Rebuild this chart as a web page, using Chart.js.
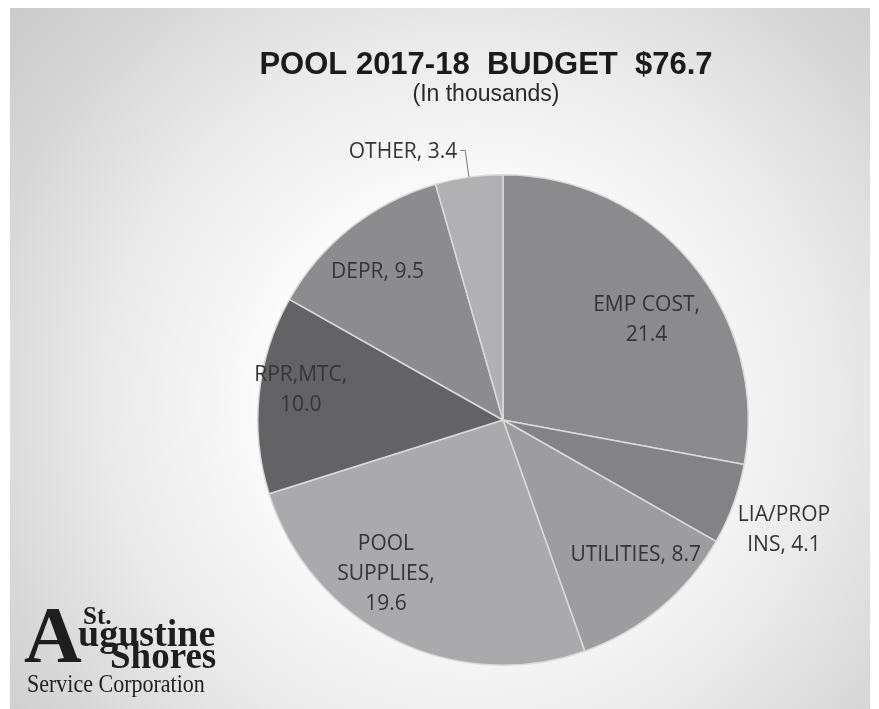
<!DOCTYPE html>
<html>
<head>
<meta charset="utf-8">
<script src="https://cdn.jsdelivr.net/npm/chart.js@4.4.1/dist/chart.umd.min.js"></script>
<style>
  html, body { margin: 0; padding: 0; background: #fff; }
  canvas { display: block; }
</style>
</head>
<body>
<canvas id="chart" width="879" height="709"></canvas>
<script>
const chartTitle = "POOL 2017-18  BUDGET  $76.7";
const chartSubtitle = "(In thousands)";
const categories = ["EMP COST", "LIA/PROP INS", "UTILITIES", "POOL SUPPLIES", "RPR,MTC", "DEPR", "OTHER"];
const budget = [21.4, 4.1, 8.7, 19.6, 10.0, 9.5, 3.4];

const sliceColors = ["#8b8b8d", "#838385", "#9d9d9f", "#aaaaac", "#636366", "#8c8c8e", "#b1b1b3"];
// label placement: fraction of radius, turn from mid angle (deg), wrap width (px)
const labelStyle = [
    { dist: 0.717, turn: 4.5, wrap: 110 },
    { dist: 1.228, turn: 1, wrap: 100 },
    { dist: 0.768, turn: -4.9, wrap: 200 },
    { dist: 0.784, turn: 11, wrap: 110 },
    { dist: 0.835, turn: 3, wrap: 110 },
    { dist: 0.796, turn: -1.75, wrap: 200 },
    { dist: 1.11, turn: 0, wrap: 200, leader: true }
];

const labelFont = 21;
const lineHeight = 30;

var wrapText = (ctx, text, width) => {
    let lines = [], line = "";
    text.split(" ").forEach(word => {
        let test = line ? line + " " + word : word;
        if (line && ctx.measureText(test).width > width) {
            lines.push(line);
            line = word;
        } else {
            line = test;
        }
    });
    lines.push(line);
    return lines;
};

var background = {
    id: "background",
    beforeDraw: chart => {
        const ctx = chart.ctx;
        ctx.save();
        ctx.fillStyle = "#fff";
        ctx.fillRect(0, 0, chart.width, chart.height);
        let g = ctx.createRadialGradient(470, 400, 0, 470, 400, 620);
        g.addColorStop(0, "#ffffff");
        g.addColorStop(0.32, "#fcfcfc");
        g.addColorStop(0.6, "#e9e9e9");
        g.addColorStop(0.8, "#d7d7d8");
        g.addColorStop(1, "#c8c8c9");
        ctx.fillStyle = g;
        ctx.fillRect(10, 8, 860, chart.height - 8);
        ctx.restore();
    }
};

var sliceLabels = {
    id: "sliceLabels",
    afterDatasetsDraw: chart => {
        const ctx = chart.ctx;
        const meta = chart.getDatasetMeta(0);
        ctx.save();
        ctx.font = labelFont + "px 'Open Sans'";
        ctx.fillStyle = "#353535";
        meta.data.forEach((arc, i) => {
            const p = arc.getProps(["x", "y", "startAngle", "endAngle", "outerRadius"], true);
            const st = labelStyle[i];
            const mid = (p.startAngle + p.endAngle) / 2;
            const a = mid + st.turn * Math.PI / 180;
            const r = p.outerRadius * st.dist;
            const cx = p.x + Math.cos(a) * r;
            const cy = p.y + Math.sin(a) * r;
            const lines = wrapText(ctx, categories[i] + ", " + budget[i].toFixed(1), st.wrap);
            const top = cy - (lines.length - 1) * lineHeight / 2;
            let tx = cx;
            ctx.textAlign = "center";
            if (st.leader) {
                const ex = p.x + Math.cos(mid) * p.outerRadius;
                const ey = p.y + Math.sin(mid) * p.outerRadius;
                ctx.strokeStyle = "#7a7a7a";
                ctx.lineWidth = 1;
                ctx.beginPath();
                ctx.moveTo(ex, ey);
                ctx.lineTo(cx, cy);
                ctx.lineTo(cx - 5, cy);
                ctx.stroke();
                ctx.textAlign = "right";
                tx = cx - 8;
            }
            ctx.textBaseline = "alphabetic";
            lines.forEach((ln, k) => {
                ctx.fillText(ln, tx, top + k * lineHeight + labelFont * 0.357);
            });
        });
        ctx.restore();
    }
};

var headings = {
    id: "headings",
    afterDraw: chart => {
        const ctx = chart.ctx;
        ctx.save();
        ctx.fillStyle = "#1b1b1b";
        ctx.textAlign = "center";
        ctx.textBaseline = "alphabetic";
        ctx.font = "bold 31px 'Liberation Sans'";
        ctx.fillText(chartTitle, 486, 74);
        ctx.font = "23px 'Liberation Sans'";
        ctx.fillStyle = "#2a2a2a";
        ctx.fillText(chartSubtitle, 486, 101);

        // logo
        ctx.fillStyle = "#1e1e1e";
        ctx.textAlign = "left";
        ctx.font = "bold 80px 'Liberation Serif'";
        ctx.fillText("A", 24, 662);
        ctx.font = "bold 25px 'Liberation Serif'";
        ctx.fillText("St.", 83, 624);
        ctx.font = "bold 38px 'Liberation Serif'";
        ctx.fillText("ugustine", 78, 646);
        ctx.font = "bold 37px 'Liberation Serif'";
        ctx.fillText("Shores", 110, 668);
        ctx.save();
        ctx.translate(27, 692);
        ctx.scale(0.88, 1);
        ctx.font = "25px 'Liberation Serif'";
        ctx.fillText("Service Corporation", 0, 0);
        ctx.restore();
        ctx.restore();
    }
};

new Chart(document.getElementById("chart"), {
    type: "pie",
    data: {
        labels: categories,
        datasets: [{
            data: budget,
            backgroundColor: sliceColors,
            borderColor: "#dadada",
            borderWidth: 1.5
        }]
    },
    options: {
        responsive: false,
        animation: false,
        layout: { padding: { left: 257, right: 130, top: 174, bottom: 43 } },
        plugins: {
            legend: { display: false },
            tooltip: { enabled: false },
            title: { display: false }
        }
    },
    plugins: [background, sliceLabels, headings]
});
</script>
</body>
</html>
